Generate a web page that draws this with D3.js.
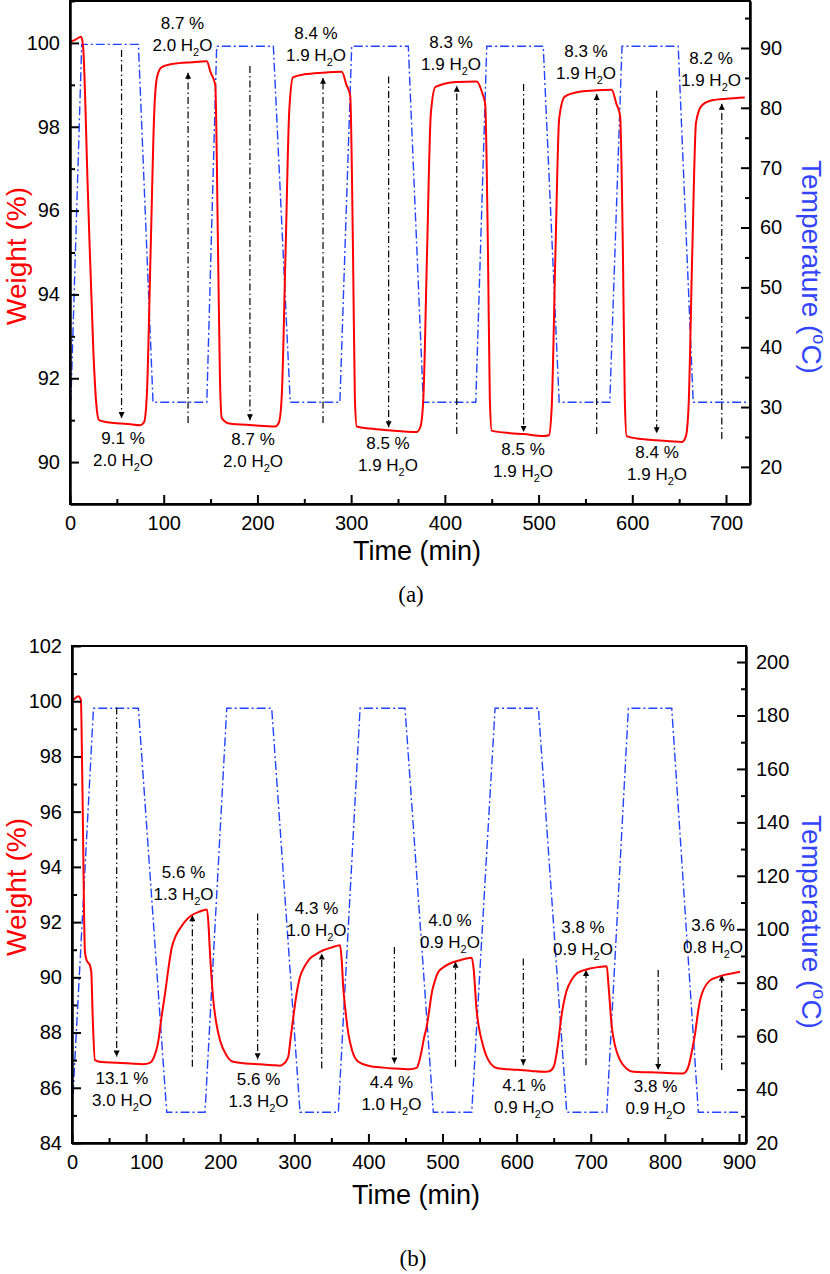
<!DOCTYPE html>
<html>
<head>
<meta charset="utf-8">
<script src="https://cdn.jsdelivr.net/npm/d3@7"></script>
<style>
  body { margin: 0; background: #fff; }
  text { font-family: "Liberation Sans", Arial, sans-serif; }
</style>
</head>
<body>
<div id="chart"></div>
<script>
// ---- panel (a) data ----
const timeA = [0,6,12,14,19,25,28,31,40,55,65,75,79,82,86,90,93,98,110,130,146,150,155,158,160,162,170,195,219,223,226,230,234,238,250,270,290,295,299,302,304,306,320,340,370,374,377,381,385,390,412,434,440,443,446,448,450,470,484,505,511,514,518,522,528,545,562,578,583,587,590,592,594,610,626,653,657,660,664,668,674,685,700,720];
const weightA = [100.03,100.08,100.15,99.9,96.5,92.6,91.4,91.0,90.95,90.92,90.9,90.88,90.95,91.6,95,98.4,99.2,99.42,99.5,99.54,99.56,99.3,99.0,95,92,91.05,90.92,90.88,90.85,90.95,91.6,95,98.4,99.18,99.25,99.29,99.31,99.0,98.74,95,91.5,90.85,90.8,90.76,90.72,90.85,91.5,95,98.3,98.95,99.07,99.08,98.8,98.55,95,91.5,90.75,90.69,90.67,90.62,90.64,91.3,95,98.2,98.72,98.84,98.87,98.88,98.55,98.26,95,91.5,90.62,90.55,90.52,90.48,90.6,91.3,95,98.1,98.5,98.63,98.67,98.7];
const tempTimeA = [0,1,12.5,73,88.6,146,156.5,217,235,288,300.6,361,377,433,444.7,505,522,576,589,649,665,725];
const tempA = [30.5,31.3,90.6,90.6,30.8,30.8,90.3,90.3,30.8,30.8,90.3,90.3,30.8,30.8,90.3,90.3,30.8,30.8,90.3,90.3,30.8,30.8];
// arrows: [time, weight start, weight at tip]
const arrowsA = [[55,99.83,91.05],[126,90.93,99.29],[192,99.45,91.0],[270,90.93,99.17],[340,99.2,90.83],[412.7,90.67,98.98],[484,99.02,90.72],[562,90.67,98.78],[626,98.86,90.69],[695.5,90.55,98.55]];
// labels: [time, weight, loss %, water molecules]
const labelsA = [[120,100.47,"8.7 %","2.0"],[262.5,100.24,"8.4 %","1.9"],[406.6,100.02,"8.3 %","1.9"],[550.6,99.81,"8.3 %","1.9"],[684,99.64,"8.2 %","1.9"],
  [56.6,90.57,"9.1 %","2.0"],[195.3,90.55,"8.7 %","2.0"],[339.3,90.45,"8.5 %","1.9"],[483.4,90.31,"8.5 %","1.9"],[626.4,90.24,"8.4 %","1.9"]];
const xTicksA = [0,100,200,300,400,500,600,700];
const wTicksA = [90,92,94,96,98,100];
const tTicksA = [20,30,40,50,60,70,80,90];

// ---- panel (b) data ----
const timeB = [0,4,8.5,12,14,17.5,20,24,26,28,31,40,60,80,96,105,110,116.5,121,125.5,130,134.5,140,146,155,161.5,172,182,184,186,190.7,195,199.7,208,217.7,235,253.7,270,280.7,287,291.9,295,298.7,303,307.7,314,321,330,339,350,361.7,364,366,369,372.9,378,386.4,400,420,433.6,456,465,468,472,475,478.6,482,485.4,490,494.4,502,510,523.6,539.4,542,546,549,552.8,560,573,600,620,636,644,650,653,656.4,660,663,667.6,674,681,690,699,710,721.6,724,728.4,733,739.6,748,757.6,780,798,825,830,834,837,840.8,844,847.5,852,861,870,879,890,901.5];
const weightB = [100.02,100.1,100.18,100.05,97,90.9,90.6,90.45,90.2,88.5,87.0,86.93,86.91,86.88,86.85,86.9,87.07,87.7,88.6,89.4,90.3,91.06,91.5,91.78,92.1,92.25,92.38,92.46,92.0,90.97,89.17,88.3,87.72,87.2,86.94,86.88,86.85,86.82,86.8,86.9,87.13,87.8,88.57,89.4,90.02,90.4,90.68,90.85,90.98,91.08,91.16,90.6,89.65,88.8,87.96,87.35,86.94,86.8,86.73,86.7,86.67,86.72,86.9,87.37,87.8,88.21,88.8,89.42,89.9,90.2,90.38,90.5,90.62,90.71,90.3,88.8,88.2,87.72,87.1,86.72,86.65,86.61,86.58,86.6,86.76,87.1,87.72,88.5,89.0,89.53,89.9,90.14,90.25,90.32,90.37,90.4,89.7,88.21,87.5,87.0,86.7,86.58,86.56,86.54,86.52,86.65,87.0,87.4,87.96,88.6,89.17,89.55,89.89,90.0,90.08,90.14,90.2];
const tempTimeB = [0,1,29,89.6,127.8,179.5,208.8,269.5,307.7,359.4,388.7,449.4,487.6,539.4,570.9,629.4,667.6,721.6,750.8,809.3,845.2,899.2];
const tempB = [32,36,182.7,182.7,31.5,31.5,182.7,182.7,31.5,31.5,182.7,182.7,31.5,31.5,182.7,182.7,31.5,31.5,182.7,182.7,31.5,31.5];
const arrowsB = [[60.3,99.77,87.13],[162.4,86.76,92.25],[250.5,92.31,87.03],[337,86.7,90.86],[435,91.1,86.88],[517.5,86.76,90.56],[609,90.68,86.82],[693.6,86.82,90.27],[791,90.27,86.64],[876.7,86.64,90.09]];
const labelsB = [[150.5,93.83,"5.6 %","1.3"],[330,92.52,"4.3 %","1.0"],[510,92.08,"4.0 %","0.9"],[689.5,91.83,"3.8 %","0.9"],[865,91.9,"3.6 %","0.8"],
  [67.5,86.34,"13.1 %","3.0"],[251.7,86.32,"5.6 %","1.3"],[431,86.22,"4.4 %","1.0"],[610,86.1,"4.1 %","0.9"],[787.4,86.06,"3.8 %","0.9"]];
const xTicksB = [0,100,200,300,400,500,600,700,800,900];
const wTicksB = [84,86,88,90,92,94,96,98,100,102];
const tTicksB = [20,40,60,80,100,120,140,160,180,200];

const RED = "#ff0000";
const BLUE = "#2244ff";
const W = 830, H = 1274;

const svg = d3.select("#chart").append("svg")
  .attr("width", W)
  .attr("height", H)
  .style("background", "#fff");

const defs = svg.append("defs");
defs.append("marker")
  .attr("id", "head")
  .attr("viewBox", "0 0 10 10")
  .attr("refX", 10).attr("refY", 5)
  .attr("markerWidth", 9).attr("markerHeight", 6)
  .attr("markerUnits", "userSpaceOnUse")
  .attr("orient", "auto")
  .append("path")
  .attr("d", "M0,0 L10,5 L0,10 Z")
  .attr("fill", "#000");

function drawPanel(p) {
  const x = d3.scaleLinear().domain(p.xDomain).range([p.left, p.right]);
  const yW = d3.scaleLinear().domain(p.wDomain).range([p.bottom, p.top]);
  const yT = d3.scaleLinear().domain(p.tDomain).range([p.bottom, p.top]);
  const g = svg.append("g");

  // temperature (blue dash-dot)
  const tempLine = d3.line().x(d => x(d[0])).y(d => yT(d[1]));
  g.append("path")
    .datum(p.tempTime.map((t, i) => [t, p.temp[i]]))
    .attr("fill", "none")
    .attr("stroke", BLUE)
    .attr("stroke-width", 1.4)
    .attr("stroke-dasharray", "9,3,2,3")
    .attr("d", tempLine);

  // arrows (black dash-dot)
  g.selectAll(".arrow")
    .data(p.arrows)
    .enter()
    .append("line")
    .attr("x1", d => x(d[0]))
    .attr("x2", d => x(d[0]))
    .attr("y1", d => yW(d[1]))
    .attr("y2", d => yW(d[2]))
    .attr("stroke", "#000")
    .attr("stroke-width", 1.2)
    .attr("stroke-dasharray", "7,3,1.5,3")
    .attr("marker-end", "url(#head)");

  // weight (red solid)
  const wLine = d3.line().curve(d3.curveMonotoneX).x(d => x(d[0])).y(d => yW(d[1]));
  g.append("path")
    .datum(p.time.map((t, i) => [t, p.weight[i]]))
    .attr("fill", "none")
    .attr("stroke", RED)
    .attr("stroke-width", 2)
    .attr("stroke-linejoin", "round")
    .attr("d", wLine);

  // annotations
  const lab = g.selectAll(".lab")
    .data(p.labels)
    .enter()
    .append("g")
    .attr("transform", d => `translate(${x(d[0])},${yW(d[1])})`);
  lab.append("text")
    .attr("y", 6)
    .attr("text-anchor", "middle")
    .style("font-size", "17px")
    .attr("fill", "#000")
    .text(d => d[2]);
  const t2 = lab.append("text")
    .attr("y", 28)
    .attr("text-anchor", "middle")
    .style("font-size", "17px")
    .attr("fill", "#000");
  t2.append("tspan").text(d => d[3] + " H");
  t2.append("tspan").style("font-size", "11px").attr("dy", 5).text("2");
  t2.append("tspan").attr("dy", -5).text("O");

  // frame
  g.append("rect")
    .attr("x", p.left).attr("y", p.top)
    .attr("width", p.right - p.left)
    .attr("height", p.bottom - p.top)
    .attr("fill", "none")
    .attr("stroke", "#000")
    .attr("stroke-width", 2);

  // axes: major + minor ticks pointing inward
  const styleAxis = sel => {
    sel.select(".domain").attr("stroke-width", 2);
    sel.selectAll(".tick line").attr("stroke-width", 2);
    sel.selectAll(".tick text").style("font-size", "20px");
  };
  g.append("g")
    .attr("transform", `translate(0,${p.bottom})`)
    .call(d3.axisBottom(x).tickValues(p.xTicks).tickSizeInner(-9).tickSizeOuter(0).tickPadding(12))
    .call(styleAxis);
  g.append("g")
    .attr("transform", `translate(0,${p.bottom})`)
    .call(d3.axisBottom(x).tickValues(p.xTicks.map(v => v + 50).filter(v => v < p.xDomain[1])).tickSizeInner(-5).tickSizeOuter(0).tickFormat(""))
    .call(styleAxis);
  g.append("g")
    .attr("transform", `translate(${p.left},0)`)
    .call(d3.axisLeft(yW).tickValues(p.wTicks).tickSizeInner(-9).tickSizeOuter(0).tickPadding(10))
    .call(styleAxis);
  g.append("g")
    .attr("transform", `translate(${p.left},0)`)
    .call(d3.axisLeft(yW).tickValues(p.wTicks.map(v => v + 1).filter(v => v < p.wDomain[1] + 0.01)).tickSizeInner(-5).tickSizeOuter(0).tickFormat(""))
    .call(styleAxis);
  g.append("g")
    .attr("transform", `translate(${p.right},0)`)
    .call(d3.axisRight(yT).tickValues(p.tTicks).tickSizeInner(-9).tickSizeOuter(0).tickPadding(10))
    .call(styleAxis);
  g.append("g")
    .attr("transform", `translate(${p.right},0)`)
    .call(d3.axisRight(yT).tickValues(p.tTicks.map(v => v + p.tMinor).filter(v => v < p.tDomain[1])).tickSizeInner(-5).tickSizeOuter(0).tickFormat(""))
    .call(styleAxis);

  // axis titles
  g.append("text")
    .attr("x", p.xTitle[0]).attr("y", p.xTitle[1])
    .attr("text-anchor", "middle")
    .style("font-size", "27px")
    .attr("fill", "#000")
    .text("Time (min)");
  g.append("text")
    .attr("transform", `translate(${p.wTitle[0]},${p.wTitle[1]}) rotate(-90)`)
    .attr("text-anchor", "middle")
    .style("font-size", "28px")
    .attr("fill", RED)
    .text("Weight (%)");
  const tt = g.append("text")
    .attr("transform", `translate(${p.tTitle[0]},${p.tTitle[1]}) rotate(90)`)
    .attr("text-anchor", "middle")
    .style("font-size", "28px")
    .attr("fill", "#3344ff");
  tt.append("tspan").text("Temperature (");
  tt.append("tspan").style("font-size", "18px").attr("dy", -11).text("o");
  tt.append("tspan").attr("dy", 11).text("C)");

  // panel tag
  g.append("text")
    .attr("x", p.tag[0]).attr("y", p.tag[1])
    .attr("text-anchor", "middle")
    .style("font-size", "23px")
    .style("font-family", "'Liberation Serif', serif")
    .attr("fill", "#000")
    .text(p.tagText);
}

drawPanel({
  left: 70, right: 750, top: 1, bottom: 504,
  xDomain: [0, 725.6], wDomain: [89, 101], tDomain: [13.8, 97.85],
  time: timeA, weight: weightA, tempTime: tempTimeA, temp: tempA,
  arrows: arrowsA, labels: labelsA,
  xTicks: xTicksA, wTicks: wTicksA, tTicks: tTicksA, tMinor: 5,
  xTitle: [417, 560], wTitle: [26, 256], tTitle: [802, 267],
  tag: [411, 602], tagText: "(a)"
});

drawPanel({
  left: 72, right: 746, top: 646, bottom: 1143,
  xDomain: [0, 909.5], wDomain: [84, 102], tDomain: [20, 206],
  time: timeB, weight: weightB, tempTime: tempTimeB, temp: tempB,
  arrows: arrowsB, labels: labelsB,
  xTicks: xTicksB, wTicks: wTicksB, tTicks: tTicksB, tMinor: 10,
  xTitle: [416, 1204], wTitle: [26, 887], tTitle: [802, 922],
  tag: [413, 1266], tagText: "(b)"
});
</script>
</body>
</html>
